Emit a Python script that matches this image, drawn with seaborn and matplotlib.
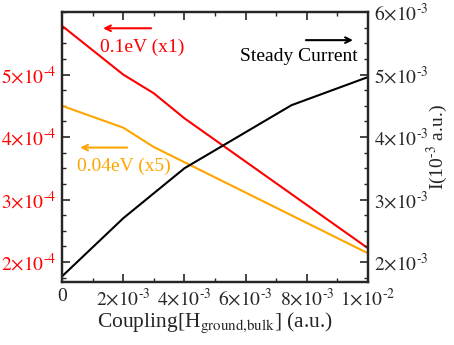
import matplotlib
matplotlib.use("Agg")
import matplotlib.pyplot as plt
import numpy as np
import pandas as pd
import seaborn as sns
from matplotlib.ticker import FixedLocator, MultipleLocator

# coupling values (a.u.)
coupling_red = [0.0, 0.002, 0.003, 0.004, 0.01]
signal_red = [5.78e-4, 5.00e-4, 4.70e-4, 4.30e-4, 2.22e-4]  # 0.1eV (x1)

coupling_orange = [0.0, 0.002, 0.003, 0.01]
signal_orange = [4.50e-4, 4.15e-4, 3.84e-4, 2.14e-4]  # 0.04eV (x5)

coupling_black = [0.0, 0.002, 0.004, 0.0075, 0.01]
current_black = [1.77e-3, 2.70e-3, 3.50e-3, 4.51e-3, 4.96e-3]  # steady current

xticks = [0.0, 0.002, 0.004, 0.006, 0.008, 0.01]
xtick_labels = ["0", r"$2{\times}10^{\text{-}3}$", r"$4{\times}10^{\text{-}3}$",
                r"$6{\times}10^{\text{-}3}$", r"$8{\times}10^{\text{-}3}$",
                r"$1{\times}10^{\text{-}2}$"]
lticks = [2e-4, 3e-4, 4e-4, 5e-4]
ltick_labels = [r"$2{\times}10^{\text{-}4}$", r"$3{\times}10^{\text{-}4}$",
                r"$4{\times}10^{\text{-}4}$", r"$5{\times}10^{\text{-}4}$"]
rticks = [2e-3, 3e-3, 4e-3, 5e-3, 6e-3]
rtick_labels = [r"$2{\times}10^{\text{-}3}$", r"$3{\times}10^{\text{-}3}$",
                r"$4{\times}10^{\text{-}3}$", r"$5{\times}10^{\text{-}3}$",
                r"$6{\times}10^{\text{-}3}$"]

sns.set_style("ticks")
plt.rcParams["font.family"] = ["Liberation Serif", "DejaVu Serif"]
plt.rcParams["mathtext.fontset"] = "stix"

RED = "#ff0000"
ORANGE = "#ffa500"

fig = plt.figure(figsize=(4.54, 3.45), dpi=100)
ax = fig.add_axes([0.1366, 0.1826, 0.674, 0.7824])
ax2 = ax.twinx()

sns.lineplot(data=pd.DataFrame({"x": coupling_red, "y": signal_red}), x="x", y="y",
             ax=ax, color=RED, lw=1.5)
sns.lineplot(data=pd.DataFrame({"x": coupling_orange, "y": signal_orange}), x="x", y="y",
             ax=ax, color=ORANGE, lw=1.5)
sns.lineplot(data=pd.DataFrame({"x": coupling_black, "y": current_black}), x="x", y="y",
             ax=ax2, color="black", lw=1.5)

ax.set_xlim(0, 0.01)
ax.set_ylim(1.68e-4, 6.0e-4)
ax2.set_ylim(1.68e-3, 6.0e-3)

ax.xaxis.set_major_locator(FixedLocator(xticks))
ax.set_xticklabels(xtick_labels)
ax.xaxis.set_minor_locator(MultipleLocator(0.001))
ax.yaxis.set_major_locator(FixedLocator(lticks))
ax.set_yticklabels(ltick_labels)
ax.yaxis.set_minor_locator(MultipleLocator(0.25e-4))
ax2.yaxis.set_major_locator(FixedLocator(rticks))
ax2.set_yticklabels(rtick_labels)
ax2.yaxis.set_minor_locator(MultipleLocator(0.25e-3))

for a in (ax, ax2):
    a.tick_params(which="major", direction="in", length=6, width=1.2, labelsize=14, pad=4)
    a.tick_params(which="minor", direction="in", length=3, width=1.0)
    for s in a.spines.values():
        s.set_visible(True)
        s.set_linewidth(1.6)
ax.tick_params(which="both", top=True, right=False)
ax.tick_params(axis="y", labelcolor=RED)
ax2.tick_params(axis="y", which="both", right=True, left=False)

ax.set_ylabel("")
ax.set_xlabel(r"Coupling[H$_{\mathrm{ground{,}bulk}}$] (a.u.)", fontsize=15.5)
ax.xaxis.set_label_coords(0.5, -0.105)
ax2.set_ylabel(r"I(10$^{\text{-}3}$ a.u.)", fontsize=14, va="center")
ax2.yaxis.set_label_coords(1.228, 0.5)

# annotations in axes coordinates
ax.annotate("", xy=(0.125, 0.94), xytext=(0.3, 0.94), xycoords="axes fraction",
            arrowprops=dict(arrowstyle="->", color=RED, lw=1.5))
ax.text(0.125, 0.87, "0.1eV (x1)", transform=ax.transAxes, color=RED, fontsize=14,
        ha="left", va="center")
ax.annotate("", xy=(0.05, 0.498), xytext=(0.222, 0.498), xycoords="axes fraction",
            arrowprops=dict(arrowstyle="->", color=ORANGE, lw=1.5))
ax.text(0.05, 0.427, "0.04eV (x5)", transform=ax.transAxes, color=ORANGE, fontsize=14,
        ha="left", va="center")
ax.annotate("", xy=(0.96, 0.896), xytext=(0.788, 0.896), xycoords="axes fraction",
            arrowprops=dict(arrowstyle="->", color="black", lw=1.5))
ax.text(0.965, 0.837, "Steady Current", transform=ax.transAxes, color="black", fontsize=14,
        ha="right", va="center")

fig.savefig("out.png", dpi=100)
